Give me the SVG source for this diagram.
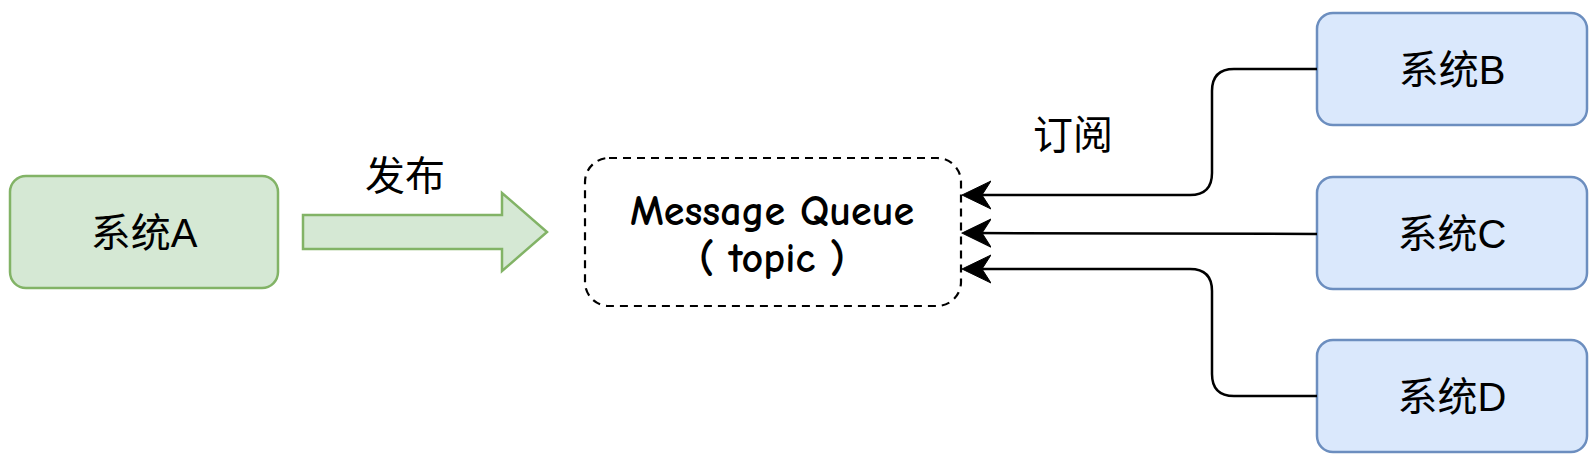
<svg xmlns="http://www.w3.org/2000/svg" width="1596" height="460" viewBox="0 0 1596 460">
  <defs>
    <style>
      .green { fill: #d5e8d4; stroke: #82b366; stroke-width: 2.5; }
      .blue { fill: #dae8fc; stroke: #6c8ebf; stroke-width: 2.5; }
      .lbl { font-family: "Liberation Sans", "Noto Sans CJK SC", sans-serif; font-size: 40px; fill: #000; text-anchor: middle; }
      .mq { font-family: "Comic Sans MS", "Comic Neue", "DejaVu Sans", sans-serif; font-size: 42px; font-weight: bold; fill: #000; text-anchor: middle; }
      .conn { fill: none; stroke: #000; stroke-width: 2.5; }
    </style>
    <marker id="arrow" markerUnits="userSpaceOnUse" viewBox="0 0 30 30" markerWidth="30" markerHeight="30" refX="19" refY="15" orient="auto">
      <path d="M29,15 L0,1 L9,15 L0,29 Z" fill="#000" stroke="#000" stroke-width="1"/>
    </marker>
  </defs>

  <rect width="1596" height="460" fill="#ffffff"/>

  <g id="node-a">
    <rect class="green" x="10" y="176" width="268" height="112" rx="16" ry="16"/>
    <text class="lbl" x="144" y="247">系统A</text>
  </g>

  <g id="publish-arrow">
    <polygon class="green" points="303,215 502,215 502,193 547,232 502,271 502,249 303,249"/>
    <text class="lbl" x="405" y="190">发布</text>
  </g>

  <g id="node-mq">
    <rect x="585" y="158" width="376" height="148" rx="24" ry="24" fill="#ffffff" stroke="#000" stroke-width="2.2" stroke-dasharray="8 6"/>
    <text class="mq" x="772" y="225">Message Queue</text>
    <text class="mq" x="772" y="272">( topic )</text>
  </g>

  <g id="node-b">
    <rect class="blue" x="1317" y="13" width="270" height="112" rx="16" ry="16"/>
    <text class="lbl" x="1452" y="84">系统B</text>
  </g>

  <g id="node-c">
    <rect class="blue" x="1317" y="177" width="270" height="112" rx="16" ry="16"/>
    <text class="lbl" x="1452" y="248">系统C</text>
  </g>

  <g id="node-d">
    <rect class="blue" x="1317" y="340" width="270" height="112" rx="16" ry="16"/>
    <text class="lbl" x="1452" y="411">系统D</text>
  </g>

  <g id="connectors">
    <path class="conn" d="M1317,69 H1234 Q1212,69 1212,91 V173 Q1212,195 1190,195 H972" marker-end="url(#arrow)"/>
    <path class="conn" d="M1317,234 L972,233" marker-end="url(#arrow)"/>
    <path class="conn" d="M1317,396 H1234 Q1212,396 1212,374 V291 Q1212,269 1190,269 H972" marker-end="url(#arrow)"/>
    <text class="lbl" x="1073" y="149">订阅</text>
  </g>
</svg>
